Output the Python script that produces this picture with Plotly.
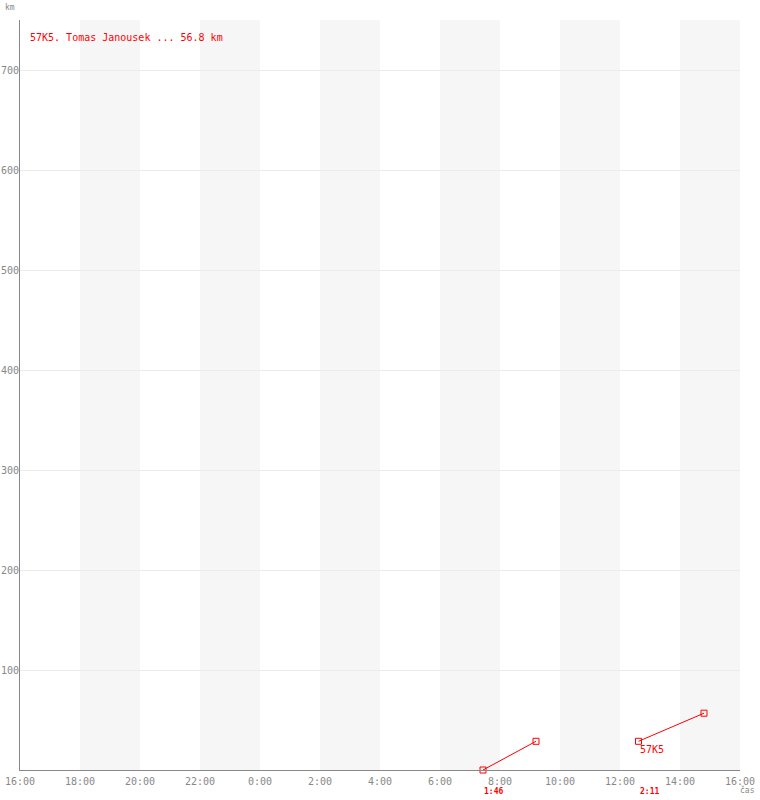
import plotly.graph_objects as go

# data
seg1_times = ["2000-01-02 07:26", "2000-01-02 09:12"]
seg1_km = [0, 28.7]
seg2_times = ["2000-01-02 12:37", "2000-01-02 14:48"]
seg2_km = [28.7, 56.8]
seg_durations = ["1:46", "2:11"]
title_text = "57K5. Tomas Janousek ... 56.8 km"
series_label = "57K5"
tick_times = ["2000-01-01 16:00", "2000-01-01 18:00", "2000-01-01 20:00", "2000-01-01 22:00",
              "2000-01-02 00:00", "2000-01-02 02:00", "2000-01-02 04:00", "2000-01-02 06:00",
              "2000-01-02 08:00", "2000-01-02 10:00", "2000-01-02 12:00", "2000-01-02 14:00",
              "2000-01-02 16:00"]
tick_labels = ["16:00", "18:00", "20:00", "22:00", "0:00", "2:00", "4:00", "6:00",
               "8:00", "10:00", "12:00", "14:00", "16:00"]
y_ticks = [100, 200, 300, 400, 500, 600, 700]

RED = "#ff0000"
GREY = "#888888"
FONT = "DejaVu Sans Mono"

fig = go.Figure()
for t, v in [(seg1_times, seg1_km), (seg2_times, seg2_km)]:
    fig.add_trace(go.Scatter(
        x=t, y=v, mode="lines+markers",
        line=dict(color=RED, width=1),
        marker=dict(symbol="square-open", size=6, color=RED, line=dict(width=1, color=RED)),
        hoverinfo="skip", showlegend=False, cliponaxis=False))

# alternating bands
shapes = []
for i in range(1, len(tick_times) - 1, 2):
    shapes.append(dict(type="rect", xref="x", yref="paper", x0=tick_times[i], x1=tick_times[i + 1],
                       y0=0, y1=1, fillcolor="#f6f6f6", line=dict(width=0), layer="below"))

annotations = [
    dict(text=title_text, xref="paper", yref="paper", x=0.0, y=1, xanchor="left", yanchor="top",
         xshift=8, yshift=-10, showarrow=False, font=dict(family=FONT, size=10, color=RED)),
    dict(text="km", xref="paper", yref="paper", x=0, y=1, xanchor="left", yanchor="bottom",
         xshift=-17, yshift=6, showarrow=False, font=dict(family=FONT, size=8, color=GREY)),
    dict(text="čas", xref="paper", yref="paper", x=1, y=0, xanchor="left", yanchor="top",
         xshift=-2, yshift=-13, showarrow=False, font=dict(family=FONT, size=8, color=GREY)),
    dict(text=series_label, x=seg2_times[0], y=seg2_km[0], xanchor="left", yanchor="top",
         xshift=-1, yshift=-1, showarrow=False, font=dict(family=FONT, size=10, color=RED)),
]
for t, d in zip([seg1_times[0], seg2_times[0]], seg_durations):
    annotations.append(dict(text="<b>" + d + "</b>", x=t, y=0, xanchor="left", yanchor="top",
                            xshift=-1, yshift=-15, showarrow=False,
                            font=dict(family=FONT, size=8, color=RED)))

fig.update_layout(
    width=760, height=800,
    margin=dict(l=20, r=20, t=20, b=30, pad=0),
    paper_bgcolor="white", plot_bgcolor="white",
    shapes=shapes, annotations=annotations,
    xaxis=dict(type="date", range=[tick_times[0], tick_times[-1]], tickvals=tick_times, ticktext=tick_labels,
               showgrid=False, zeroline=False, showline=True, linecolor=GREY, linewidth=1,
               ticks="", automargin=False, ticklabelstandoff=2,
               tickfont=dict(family=FONT, size=10, color=GREY)),
    yaxis=dict(range=[0, 750], tickvals=y_ticks, showgrid=True, gridcolor="#ebebeb", gridwidth=1,
               zeroline=False, showline=True, linecolor=GREY, linewidth=1, ticks="", automargin=False,
               ticklabelstandoff=-2, tickfont=dict(family=FONT, size=10, color=GREY)),
)

fig.write_html("out.html", config={"displayModeBar": False},
               post_script="document.body.style.margin='0';document.body.style.overflow='hidden';")
